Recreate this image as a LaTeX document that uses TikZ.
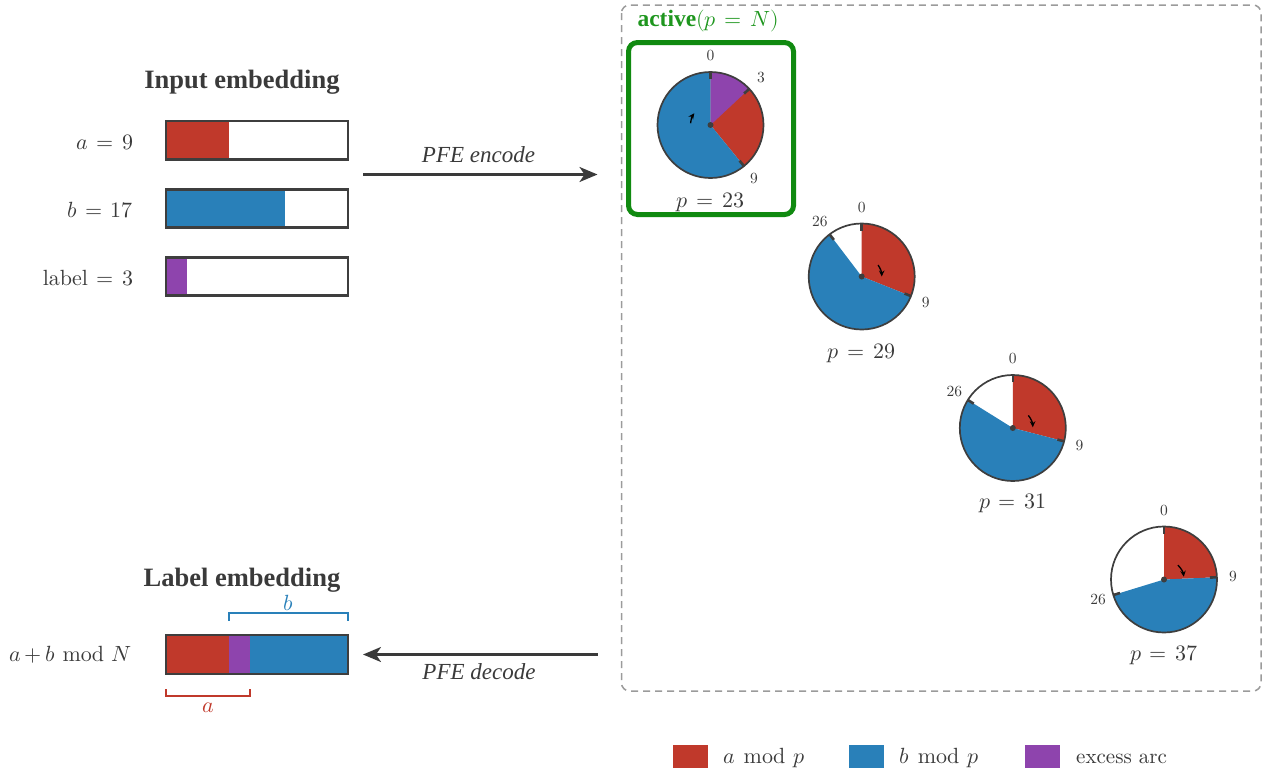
\documentclass[tikz,border=0pt]{standalone}
\usepackage{fontspec}
\usepackage{unicode-math}
\setmainfont{lmroman10-regular.otf}[ItalicFont=lmroman10-italic.otf, BoldFont=lmroman10-bold.otf]
\setmathfont{Latin Modern Math}
\newfontfamily\timesfont{Liberation Serif}
\usetikzlibrary{arrows.meta,calc}

\definecolor{ared}{RGB}{192,57,43}
\definecolor{bblue}{RGB}{41,128,185}
\definecolor{xpurple}{RGB}{142,68,173}
\definecolor{ink}{RGB}{58,58,58}
\definecolor{outline}{RGB}{62,62,62}
\definecolor{activegreen}{RGB}{16,138,16}
\definecolor{activetext}{RGB}{30,150,30}
\definecolor{framegray}{RGB}{155,155,155}

% relation with a little extra air around it
\newcommand\eqs{\mkern2mu=\mkern2mu}
% dial radius (1 unit = 1pt)
\newcommand\clockr{53}
% filled wedge of a dial: centre, from, to (degrees clockwise from 12 o'clock), colour
\newcommand\dialwedge[4]{%
  \fill[#4] (#1) -- ++({#2-90}:\clockr) arc[start angle={#2-90}, end angle={#3-90}, radius=\clockr] -- cycle;}
% tick mark with its number: centre, angle, text, node name
\newcommand\dialtick[4]{%
  \draw[tickmark] (#1) ++({#2-90}:46) -- ++({#2-90}:7);
  \node[ticklbl] (#4) at ($(#1)+({#2-90}:69)$) {#3};}

\begin{document}
\begin{tikzpicture}[x=1pt,y=-1pt,
  txt/.style={text=ink, inner sep=0pt, font=\fontsize{22}{26}\selectfont},
  title/.style={text=ink, inner sep=0pt, anchor=base, font=\timesfont\bfseries\fontsize{26.5}{30}\selectfont},
  flowlbl/.style={text=ink, inner sep=0pt, anchor=base, font=\timesfont\itshape\fontsize{23}{27}\selectfont},
  ticklbl/.style={text=ink, inner sep=0pt, font=\fontsize{15.5}{18}\selectfont},
  barframe/.style={draw=outline, line width=2.4pt},
  flow/.style={draw=ink, line width=2.4pt, -{Stealth[length=18pt,width=15pt,inset=5pt]}},
  dial/.style={draw=outline, line width=1.7pt},
  tickmark/.style={draw=outline, line width=2.6pt},
  spin/.style={draw=black, line width=1.3pt, -{Stealth[length=6pt,width=5.5pt]}},
  brace/.style={line width=2pt}
]
\useasboundingbox (0,0) rectangle (1265,771);

% ---------- input embedding ----------
\node[title] (inTitle) at (242,88) {Input embedding};

\fill[ared] (166,121) rectangle (229,159.5);
\draw[barframe] (166,121) rectangle (348,159.5);
\node[txt, anchor=base east] (aval) at (133.5,149.3) {$a\eqs9$};

\fill[bblue] (166,189.5) rectangle (285,227.5);
\draw[barframe] (166,189.5) rectangle (348,227.5);
\node[txt, anchor=base east] (bval) at (133.5,217.3) {$b\eqs17$};

\fill[xpurple] (166,257.5) rectangle (187,295.5);
\draw[barframe] (166,257.5) rectangle (348,295.5);
\node[txt, anchor=base east] (lval) at (133.5,285) {$\mathrm{label}\eqs3$};

% ---------- label embedding ----------
\node[title] (outTitle) at (242,586) {Label embedding};

\fill[ared] (166,635) rectangle (229,674);
\fill[xpurple] (229,635) rectangle (250,674);
\fill[bblue] (250,635) rectangle (348,674);
\draw[barframe] (166,635) rectangle (348,674);
\node[txt, anchor=base east] (sumval) at (131.7,661.7) {$a\mkern-1mu+\mkern-1mu b\mkern1mu\bmod\mkern1mu N$};

\draw[brace, bblue] (229,620.7) -- (229,613.3) -- (348,613.3) -- (348,620.7);
\node[txt, text=bblue, anchor=base] (blab) at (288.5,610) {$b$};
\draw[brace, ared] (166,689.3) -- (166,696) -- (250,696) -- (250,689.3);
\node[txt, text=ared, anchor=base] (alab) at (208,712.3) {$a$};

% ---------- encode / decode ----------
\coordinate (encS) at (363,174.5);
\coordinate (encE) at (597.5,174.5);
\draw[flow] (encS) -- (encE);
\node[flowlbl] (encLbl) at (478.5,162.7) {PFE encode};

\coordinate (decS) at (597.5,654.5);
\coordinate (decE) at (363,654.5);
\draw[flow] (decS) -- (decE);
\node[flowlbl] (decLbl) at (479,679.3) {PFE decode};

% ---------- residue dials ----------
\draw[framegray, line width=1.5pt, dash pattern=on 7pt off 5pt, rounded corners=8pt]
  (621.5,5) rectangle (1261,691);
\node[anchor=base west, inner sep=0pt, text=activetext, font=\fontsize{22}{26}\selectfont] (act) at (637.3,26.7)
  {{\timesfont\bfseries\fontsize{23.5}{27}\selectfont active}$(p\eqs N)$};
\draw[activegreen, line width=5pt, rounded corners=9pt] (628.5,42.5) rectangle (793.5,214.5);

% p = 23
\coordinate (c1) at (710.5,125);
\dialwedge{c1}{0}{360*9/23}{ared}
\dialwedge{c1}{360*9/23}{360}{bblue}
\dialwedge{c1}{0}{360*3/23}{xpurple}
\draw[dial] (c1) circle[radius=\clockr];
\dialtick{c1}{0}{0}{c1t0}
\dialtick{c1}{360*3/23}{3}{c1t3}
\dialtick{c1}{360*9/23}{9}{c1t9}
\fill[outline] (c1) circle[radius=3];
\draw[spin] (c1) ++(185:20) arc[start angle=185, end angle=216, radius=20];
\node[txt, anchor=base] (p23) at (710.5,207) {$p\eqs23$};

% p = 29
\coordinate (c2) at (861.7,276.5);
\dialwedge{c2}{0}{360*9/29}{ared}
\dialwedge{c2}{360*9/29}{360*26/29}{bblue}
\draw[dial] (c2) circle[radius=\clockr];
\dialtick{c2}{0}{0}{c2t0}
\dialtick{c2}{360*9/29}{9}{c2t9}
\dialtick{c2}{360*26/29}{26}{c2t26}
\fill[outline] (c2) circle[radius=3];
\draw[spin] (c2) ++(-35:20) arc[start angle=-35, end angle=0, radius=20];
\node[txt, anchor=base] (p29) at (861.7,358.3) {$p\eqs29$};

% p = 31
\coordinate (c3) at (1012.8,428);
\dialwedge{c3}{0}{360*9/31}{ared}
\dialwedge{c3}{360*9/31}{360*26/31}{bblue}
\draw[dial] (c3) circle[radius=\clockr];
\dialtick{c3}{0}{0}{c3t0}
\dialtick{c3}{360*9/31}{9}{c3t9}
\dialtick{c3}{360*26/31}{26}{c3t26}
\fill[outline] (c3) circle[radius=3];
\draw[spin] (c3) ++(-39:20) arc[start angle=-39, end angle=-2, radius=20];
\node[txt, anchor=base] (p31) at (1012.8,508.3) {$p\eqs31$};

% p = 37
\coordinate (c4) at (1164,579.5);
\dialwedge{c4}{0}{360*9/37}{ared}
\dialwedge{c4}{360*9/37}{360*26/37}{bblue}
\draw[dial] (c4) circle[radius=\clockr];
\dialtick{c4}{0}{0}{c4t0}
\dialtick{c4}{360*9/37}{9}{c4t9}
\dialtick{c4}{360*26/37}{26}{c4t26}
\fill[outline] (c4) circle[radius=3];
\draw[spin] (c4) ++(-46:20) arc[start angle=-46, end angle=-8, radius=20];
\node[txt, anchor=base] (p37) at (1164,660) {$p\eqs37$};

% ---------- legend ----------
\fill[ared] (672.5,745) rectangle (707.5,767.5);
\node[txt, anchor=base west] (legA) at (723.3,763.3) {$a\mkern2mu\bmod\mkern2mu p$};
\fill[bblue] (849,745) rectangle (884,767.5);
\node[txt, anchor=base west] (legB) at (899.3,763.3) {$b\mkern2mu\bmod\mkern2mu p$};
\fill[xpurple] (1025,745) rectangle (1060,767.5);
\node[txt, anchor=base west, font=\fontsize{21}{25}\selectfont] (legX) at (1076,763.3) {excess arc};
\end{tikzpicture}
\end{document}
